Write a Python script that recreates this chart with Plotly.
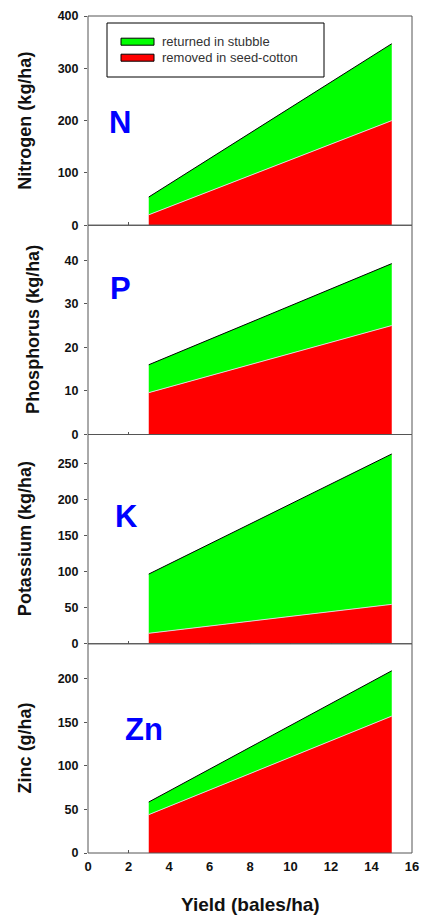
import plotly.graph_objects as go

# ---- data ----
yield_bales = [3, 15]

n_removed = [20, 200]
n_total = [54, 347]
p_removed = [9.6, 25]
p_total = [16, 39.2]
k_removed = [14.5, 54.6]
k_total = [96.6, 263]
zn_removed = [44, 157]
zn_total = [58.5, 209]

panel_letters = ["N", "P", "K", "Zn"]
y_titles = ["Nitrogen (kg/ha)", "Phosphorus (kg/ha)", "Potassium (kg/ha)", "Zinc (g/ha)"]
y_ranges = [[0, 400], [0, 48], [0, 290], [0, 240]]
y_tickvals = [[0, 100, 200, 300, 400], [0, 10, 20, 30, 40],
              [0, 50, 100, 150, 200, 250], [0, 50, 100, 150, 200]]
x_ticks = [0, 2, 4, 6, 8, 10, 12, 14, 16]

removed_series = [n_removed, p_removed, k_removed, zn_removed]
total_series = [n_total, p_total, k_total, zn_total]

name_returned = "returned in stubble"
name_removed = "removed in seed-cotton"

# ---- style ----
FONT = "Arial, Liberation Sans, sans-serif"
RED = "#ff0000"
GREEN = "#00ff00"
FRAME = "#555555"

W, H = 422, 916
# plot area in window pixels
PL, PR, PT, PB = 88, 412, 16, 853
ML, MR, MT, MB = PL, W - PR, PT, H - PB
plot_h = PB - PT
pw = PR - PL

def px_x(p):
    return (p - PL) / pw

def px_y(p):
    return (PB - p) / plot_h

# letter positions (x in data units, y in domain fraction)
letter_pos = [(1.58, 0.49), (1.58, 0.70), (1.88, 0.61), (2.77, 0.59)]
title_x_px = [25, 33, 25, 25]

fig = go.Figure()
layout = dict(
    width=W, height=H,
    margin=dict(l=ML, r=MR, t=MT, b=MB, autoexpand=False),
    paper_bgcolor="white", plot_bgcolor="white",
    showlegend=False,
    font=dict(family=FONT, color="#111111"),
)

annotations = []
shapes = []
for i in range(4):
    ax = "" if i == 0 else str(i + 1)
    top = 1 - i * 0.25
    bot = top - 0.25
    fig.add_trace(go.Scatter(
        x=yield_bales, y=removed_series[i], mode="lines",
        fill="tozeroy", fillcolor=RED,
        line=dict(color="#d8d8d8", width=1),
        name=name_removed, xaxis="x" + ax, yaxis="y" + ax, hoverinfo="skip",
    ))
    fig.add_trace(go.Scatter(
        x=yield_bales, y=total_series[i], mode="lines",
        fill="tonexty", fillcolor=GREEN,
        line=dict(color="black", width=1),
        name=name_returned, xaxis="x" + ax, yaxis="y" + ax, hoverinfo="skip",
    ))
    layout["xaxis" + ax] = dict(
        domain=[0, 1], anchor="y" + ax, range=[0, 16],
        tickvals=x_ticks, ticktext=["<b>%d</b>" % v for v in x_ticks],
        ticks="inside", ticklen=3, tickcolor=FRAME,
        showticklabels=(i == 3), showgrid=False, zeroline=False,
        showline=False, layer="below traces", automargin=False,
        tickfont=dict(family=FONT, size=13, color="#111111"),
        ticklabelstandoff=4,
    )
    layout["yaxis" + ax] = dict(
        domain=[bot, top], anchor="x" + ax, range=y_ranges[i],
        tickvals=y_tickvals[i], ticktext=["<b>%d</b>" % v for v in y_tickvals[i]],
        ticks="outside", ticklen=3, tickcolor=FRAME,
        showgrid=False, zeroline=False, showline=False, automargin=False,
        tickfont=dict(family=FONT, size=12.5, color="#111111"),
        ticklabelstandoff=3,
    )
    # frame around each panel
    shapes.append(dict(
        type="rect", xref="x" + ax + " domain", yref="y" + ax + " domain",
        x0=0, x1=1, y0=0, y1=1, line=dict(color=FRAME, width=1), layer="above",
    ))
    # panel letter
    lx, ly = letter_pos[i]
    annotations.append(dict(
        text="<b>%s</b>" % panel_letters[i], xref="x" + ax, yref="y" + ax + " domain",
        x=lx, y=ly, showarrow=False, xanchor="center", yanchor="middle",
        font=dict(family=FONT, size=31, color="#0000ff"),
    ))
    # y title
    annotations.append(dict(
        text="<b>%s</b>" % y_titles[i], xref="paper", yref="y" + ax + " domain",
        x=px_x(title_x_px[i]), y=0.5, textangle=-90,
        showarrow=False, xanchor="center", yanchor="middle",
        font=dict(family=FONT, size=18, color="#111111"),
    ))

# x title
annotations.append(dict(
    text="<b>Yield (bales/ha)</b>", xref="paper", yref="paper",
    x=0.5, y=px_y(904), showarrow=False,
    xanchor="center", yanchor="middle",
    font=dict(family=FONT, size=19, color="#111111"),
))

# legend (box, swatches, labels)
shapes.append(dict(
    type="rect", xref="paper", yref="paper",
    x0=px_x(107), x1=px_x(324), y0=px_y(77), y1=px_y(23),
    line=dict(color="black", width=1), fillcolor="white", layer="above",
))
legend_items = [(name_returned, GREEN, 41.7), (name_removed, RED, 57.7)]
for label, col, yc in legend_items:
    shapes.append(dict(
        type="rect", xref="paper", yref="paper",
        x0=px_x(121), x1=px_x(154), y0=px_y(yc + 3.5), y1=px_y(yc - 3.5),
        line=dict(color="black", width=1), fillcolor=col, layer="above",
    ))
    annotations.append(dict(
        text=label, xref="paper", yref="paper", x=px_x(160), y=px_y(yc),
        xanchor="left", yanchor="middle", showarrow=False,
        font=dict(family=FONT, size=13, color="#333333"),
    ))

layout["annotations"] = annotations
layout["shapes"] = shapes
fig.update_layout(**layout)

# the figure fills the whole window: drop the page's default margin and scrollbars
fig.write_html(
    "out.html",
    config={"displayModeBar": False, "staticPlot": True},
    post_script="document.body.style.margin='0';"
                "document.documentElement.style.overflow='hidden';"
                "document.body.style.overflow='hidden';",
)
